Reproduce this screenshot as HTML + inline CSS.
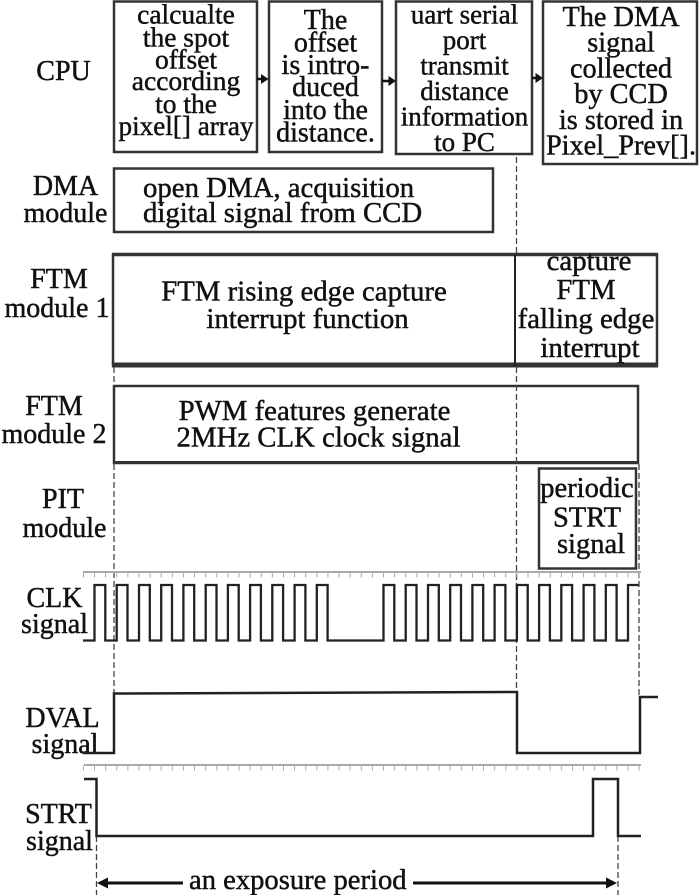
<!DOCTYPE html>
<html>
<head>
<meta charset="utf-8">
<style>
  html,body{margin:0;padding:0;background:#fff;}
  svg{display:block;}
  text{font-family:"Liberation Serif","Times New Roman",serif;fill:#111;stroke:#111;stroke-width:0.45px;}
</style>
</head>
<body>
<svg width="700" height="895" viewBox="0 0 700 895" xmlns="http://www.w3.org/2000/svg">
  <rect x="0" y="0" width="700" height="895" fill="#fff"/>

  <!-- ===== Row labels ===== -->
  <g font-size="28" text-anchor="middle">
    <text x="63.5" y="80">CPU</text>
    <text x="65.5" y="195">DMA</text>
    <text x="65.5" y="222">module</text>
    <text x="59" y="288">FTM</text>
    <text x="57" y="317">module 1</text>
    <text x="54" y="415">FTM</text>
    <text x="54" y="443">module 2</text>
    <text x="63" y="508">PIT</text>
    <text x="64.5" y="537">module</text>
    <text x="54.5" y="607">CLK</text>
    <text x="54.5" y="633">signal</text>
    <text x="62.5" y="727">DVAL</text>
    <text x="65" y="753">signal</text>
    <text x="58.5" y="823">STRT</text>
    <text x="59.5" y="850">signal</text>
  </g>

  <!-- ===== CPU boxes ===== -->
  <g fill="none" stroke="#333" stroke-width="2.5">
    <rect x="114" y="1.5" width="143" height="150.5"/>
    <rect x="269" y="1.5" width="113" height="150.5"/>
    <rect x="396" y="1.5" width="136" height="152.5"/>
    <rect x="543" y="1.5" width="154" height="162.5"/>
  </g>

  <g text-anchor="middle">
    <g font-size="27.5">
      <text x="186" y="23.5">calcualte</text>
      <text x="186" y="46.5">the spot</text>
      <text x="186" y="68.5">offset</text>
      <text x="186" y="90">according</text>
      <text x="186" y="113">to the</text>
      <text x="186" y="135" textLength="135" lengthAdjust="spacingAndGlyphs">pixel[] array</text>
    </g>
    <g font-size="28">
      <text x="325.5" y="29">The</text>
      <text x="325.5" y="51.5">offset</text>
      <text x="325.5" y="74">is intro-</text>
      <text x="325.5" y="96">duced</text>
      <text x="325.5" y="119">into the</text>
      <text x="325.5" y="141.5">distance.</text>
    </g>
    <g font-size="27">
      <text x="464.5" y="23.5">uart serial</text>
      <text x="464.5" y="49">port</text>
      <text x="464.5" y="74.5">transmit</text>
      <text x="464.5" y="100">distance</text>
      <text x="464.5" y="125.5">information</text>
      <text x="464.5" y="151">to PC</text>
    </g>
    <g font-size="28.3">
      <text x="621" y="26">The DMA</text>
      <text x="621" y="51.5">signal</text>
      <text x="621" y="77.5">collected</text>
      <text x="621" y="103">by CCD</text>
      <text x="621" y="129">is stored in</text>
      <text x="621" y="154.5">Pixel_Prev[].</text>
    </g>
  </g>

  <!-- CPU arrows -->
  <g fill="#111" stroke="#111">
    <line x1="257" y1="79" x2="262" y2="79" stroke-width="2.5"/>
    <polygon points="261,74 268.5,79 261,84" stroke="none"/>
    <line x1="382" y1="81" x2="389" y2="81" stroke-width="2.5"/>
    <polygon points="388.5,76 396,81 388.5,86" stroke="none"/>
    <line x1="532" y1="78" x2="536" y2="78" stroke-width="2.5"/>
    <polygon points="535.5,73 543,78 535.5,83" stroke="none"/>
  </g>

  <!-- ===== DMA ===== -->
  <rect x="114" y="168.5" width="379" height="63.5" fill="none" stroke="#333" stroke-width="2.5"/>
  <g font-size="28.8">
    <text x="143" y="197">open DMA, acquisition</text>
    <text x="143" y="222">digital signal from CCD</text>
  </g>

  <!-- ===== FTM module 1 ===== -->
  <rect x="113" y="254.5" width="544" height="111" fill="none" stroke="#333" stroke-width="2.5"/>
  <line x1="112" y1="254.5" x2="658" y2="254.5" stroke="#333" stroke-width="3.5"/>
  <line x1="112" y1="365" x2="658" y2="365" stroke="#333" stroke-width="5"/>
  <line x1="515" y1="254" x2="515" y2="366" stroke="#222" stroke-width="2"/>
  <g font-size="28.8" text-anchor="middle">
    <text x="304" y="300.5">FTM rising edge capture</text>
    <text x="307.5" y="328">interrupt function</text>
    <text x="589" y="270">capture</text>
    <text x="586" y="299">FTM</text>
    <text x="586" y="328">falling edge</text>
    <text x="590" y="357">interrupt</text>
  </g>

  <!-- ===== FTM module 2 ===== -->
  <rect x="114" y="386" width="524" height="77" fill="none" stroke="#333" stroke-width="2.5"/>
  <line x1="113" y1="462.5" x2="639" y2="462.5" stroke="#333" stroke-width="3"/>
  <g font-size="28.8" text-anchor="middle">
    <text x="314.5" y="420">PWM features generate</text>
    <text x="318.5" y="446.5">2MHz CLK clock signal</text>
  </g>

  <!-- ===== PIT ===== -->
  <rect x="539" y="468.5" width="97" height="100" fill="none" stroke="#333" stroke-width="2.5"/>
  <g font-size="28.5" text-anchor="middle">
    <text x="587" y="497">periodic</text>
    <text x="587" y="526.5">STRT</text>
    <text x="591" y="553">signal</text>
  </g>

  <!-- ===== Dashed guide lines ===== -->
  <g stroke="#444" stroke-width="1.3" stroke-dasharray="6,3" fill="none">
    <line x1="516.5" y1="157" x2="516.5" y2="254"/>
    <line x1="516.5" y1="367" x2="516.5" y2="692"/>
    <line x1="114" y1="367" x2="114" y2="386"/>
    <line x1="114" y1="464" x2="114" y2="693"/>
    <line x1="639" y1="464" x2="639" y2="697"/>
    <line x1="96.5" y1="836" x2="96.5" y2="895"/>
    <line x1="618" y1="836" x2="618" y2="895"/>
  </g>

  <!-- ===== Rulers ===== -->
  <g stroke="#aaa" fill="none">
    <line x1="83" y1="572" x2="641" y2="572" stroke-width="2"/>
    <line x1="82.9" y1="575" x2="641" y2="575" stroke-width="5" stroke-dasharray="1 10.115"/>
    <line x1="84" y1="765" x2="641" y2="765" stroke-width="2"/>
    <line x1="82.9" y1="768" x2="641" y2="768" stroke-width="5" stroke-dasharray="1 10.115"/>
  </g>

  <!-- ===== CLK signal ===== -->
  <path fill="none" stroke="#222" stroke-width="2.3" d="M83,640.5 H94.5 V585 H105.3 V640.5 H116.7 V585 H127.5 V640.5 H139 V585 H149.8 V640.5 H161.2 V585 H172 V640.5 H183.4 V585 H194.2 V640.5 H205.7 V585 H216.5 V640.5 H227.9 V585 H238.7 V640.5 H250.1 V585 H260.9 V640.5 H272.3 V585 H283.1 V640.5 H294.6 V585 H305.4 V640.5 H316.8 V585 H327.6 V640.5 H383.5 V585 H394.3 V640.5 H405.7 V585 H416.5 V640.5 H428 V585 H438.8 V640.5 H450.2 V585 H461 V640.5 H472.4 V585 H483.2 V640.5 H494.6 V585 H505.4 V640.5 H516.9 V585 H527.7 V640.5 H539.1 V585 H549.9 V640.5 H561.3 V585 H572.1 V640.5 H583.6 V585 H594.4 V640.5 H605.8 V585 H616.6 V640.5 H628 V585 H638.5"/>

  <!-- ===== DVAL signal ===== -->
  <path fill="none" stroke="#222" stroke-width="2.5" d="M83,753 H114 V693.5 L517,692 V753 H640 V697 H658"/>

  <!-- ===== STRT signal ===== -->
  <path fill="none" stroke="#222" stroke-width="2.5" d="M84,779 H96.5 V836 H593 V779 H618 V836 H641"/>

  <!-- ===== Exposure period arrow ===== -->
  <g stroke="#111" fill="#111">
    <line x1="104" y1="883" x2="183" y2="883" stroke-width="3"/>
    <line x1="413" y1="883" x2="610" y2="883" stroke-width="3"/>
    <polygon points="97,883 108,877.5 108,888.5" stroke="none"/>
    <polygon points="617,883 606,877.5 606,888.5" stroke="none"/>
  </g>
  <text x="189" y="889" font-size="28.6">an exposure period</text>
</svg>
</body>
</html>
